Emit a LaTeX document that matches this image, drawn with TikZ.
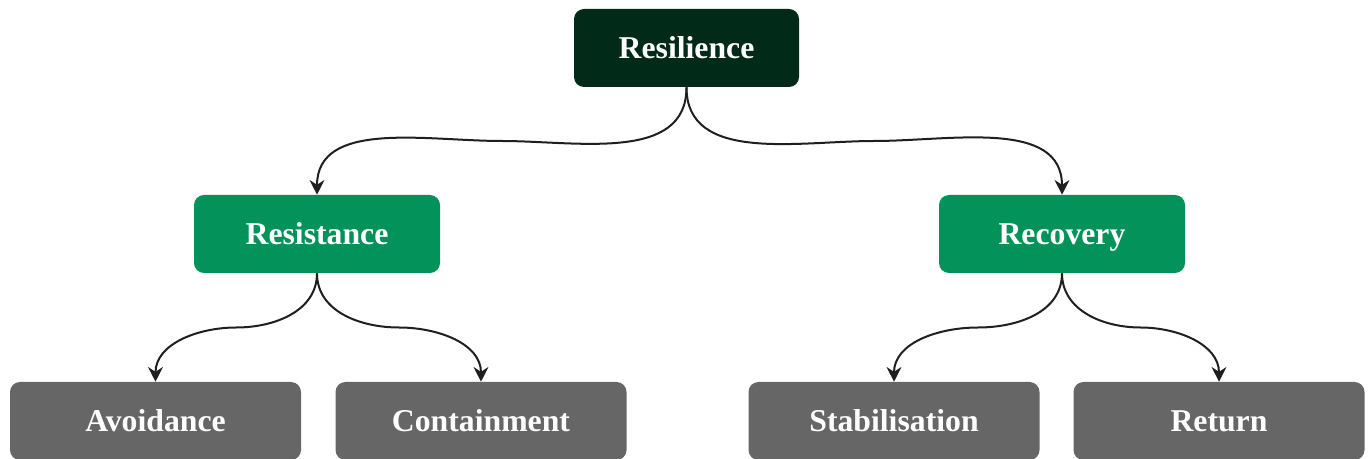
\documentclass[tikz,border=0pt]{standalone}
\usepackage{fontspec}
\setmainfont{Liberation Serif}
\usetikzlibrary{arrows.meta,calc}

\definecolor{rootgreen}{HTML}{022A18}
\definecolor{midgreen}{HTML}{03935A}
\definecolor{leafgrey}{HTML}{666666}

\begin{document}
\begin{tikzpicture}[x=0.75pt,y=-0.75pt,>={Stealth[length=11pt,width=11pt]},
    box/.style={rounded corners=7.5pt, text=white, inner sep=0pt,
        font=\bfseries\fontsize{23.8}{28}\selectfont, minimum height=58.5pt,
        text height=15.7pt, text depth=0pt},
    rootbox/.style={box, fill=rootgreen, minimum width=168.75pt},
    midbox/.style={box, fill=midgreen, minimum width=184.5pt},
    leafbox/.style={box, fill=leafgrey, minimum width=218.25pt},
    link/.style={->, line width=1.5pt, draw=black!88}]
    \useasboundingbox (0,0) rectangle (1371,459);

    \node[rootbox] (resilience) at (686.5,48) {Resilience};

    \node[midbox] (resistance) at (317,234) {Resistance};
    \node[midbox] (recovery) at (1062,234) {Recovery};

    \node[leafbox] (avoidance) at (155.5,421) {Avoidance};
    \node[leafbox] (containment) at (481,421) {Containment};
    \node[leafbox] (stabilisation) at (894,421) {Stabilisation};
    \node[leafbox] (return) at (1219,421) {Return};

    % curved links, flat in the middle
    \draw[link] (resilience.south) to[out=-90,in=0] ($(resilience.south)!0.5!(resistance.north)$) to[out=180,in=90] (resistance.north);
    \draw[link] (resilience.south) to[out=-90,in=180] ($(resilience.south)!0.5!(recovery.north)$) to[out=0,in=90] (recovery.north);

    \draw[link] (resistance.south) to[out=-90,in=0] ($(resistance.south)!0.5!(avoidance.north)$) to[out=180,in=90] (avoidance.north);
    \draw[link] (resistance.south) to[out=-90,in=180] ($(resistance.south)!0.5!(containment.north)$) to[out=0,in=90] (containment.north);
    \draw[link] (recovery.south) to[out=-90,in=0] ($(recovery.south)!0.5!(stabilisation.north)$) to[out=180,in=90] (stabilisation.north);
    \draw[link] (recovery.south) to[out=-90,in=180] ($(recovery.south)!0.5!(return.north)$) to[out=0,in=90] (return.north);
\end{tikzpicture}
\end{document}
